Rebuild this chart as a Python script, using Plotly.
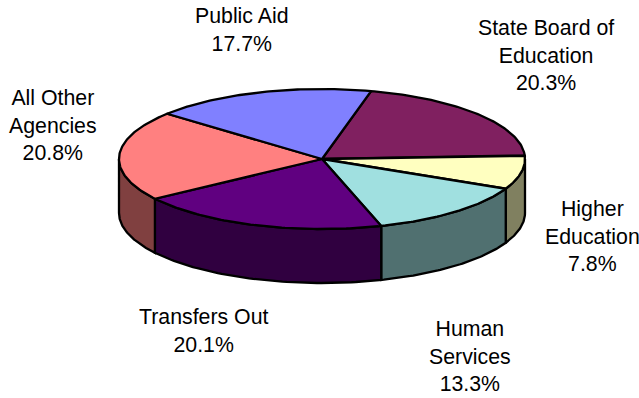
import numpy as np
import plotly.graph_objects as go

# Budget shares, clockwise from the top edge of the pie
agencies = ["State Board of<br>Education", "Higher<br>Education", "Human<br>Services",
            "Transfers Out", "All Other<br>Agencies", "Public Aid"]
shares = [20.3, 7.8, 13.3, 20.1, 20.8, 17.7]
top_colors = ["#802060", "#FFFFC0", "#A0E0E0", "#600080", "#FF8080", "#8080FF"]
side_colors = ["#401030", "#808060", "#507070", "#300040", "#804040", "#404080"]
label_x = [545.5, 592, 470, 203.5, 53, 242]
label_y = [55, 236, 356, 331, 125.5, 30]

# Pie geometry in page pixels
CX, CY, RX, RY, DEPTH = 322, 159, 203, 70, 54
START_ANGLE = 76
LINE = dict(color="black", width=2.3)


def rim(t_deg, drop=0.0):
    t = np.radians(t_deg)
    return CX + RX * np.cos(t), CY - RY * np.sin(t) + drop


fig = go.Figure()
ends = START_ANGLE - np.cumsum([0] + shares) * 3.6

# Outer wall: only the front half of the cylinder (0 to -180 degrees) is visible
for i in range(len(shares)):
    a, b = min(ends[i], 0), max(ends[i + 1], -180)
    if a <= b:
        continue
    arc = np.linspace(a, b, 60)
    x1, y1 = rim(arc)
    x2, y2 = rim(arc[::-1], DEPTH)
    fig.add_trace(go.Scatter(
        x=np.r_[x1, x2, x1[0]], y=np.r_[y1, y2, y1[0]],
        mode="lines", fill="toself", fillcolor=side_colors[i], line=LINE,
        hoverinfo="skip", showlegend=False))

# Top face of each slice
for i in range(len(shares)):
    arc = np.linspace(ends[i], ends[i + 1], 80)
    x, y = rim(arc)
    fig.add_trace(go.Scatter(
        x=np.r_[CX, x, CX], y=np.r_[CY, y, CY],
        mode="lines", fill="toself", fillcolor=top_colors[i], line=LINE,
        hoverinfo="skip", showlegend=False))

annotations = [
    dict(x=lx, y=ly, text=f"{name}<br>{v:.1f}%", showarrow=False,
         xanchor="center", yanchor="middle", align="center",
         font=dict(family="Liberation Sans, Arial, sans-serif", size=21.3, color="black"))
    for name, v, lx, ly in zip(agencies, shares, label_x, label_y)
]

hidden = dict(visible=False, fixedrange=True)
fig.update_layout(
    width=639, height=398, margin=dict(l=0, r=0, t=0, b=0),
    paper_bgcolor="white", plot_bgcolor="white",
    xaxis=dict(range=[0, 639], **hidden),
    yaxis=dict(range=[398, 0], **hidden),
    annotations=annotations, showlegend=False,
)
fig.write_html("out.html", config=dict(displayModeBar=False))
